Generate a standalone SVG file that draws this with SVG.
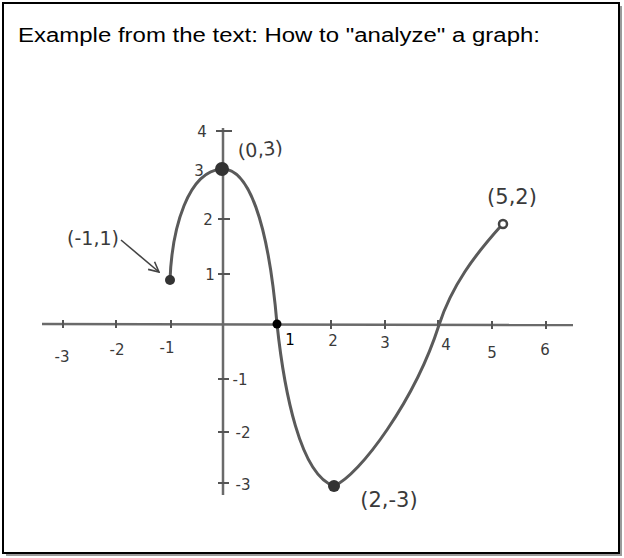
<svg xmlns="http://www.w3.org/2000/svg" width="624" height="558" viewBox="0 0 624 558">
<defs>
<style>
.title{font-family:"Comic Sans MS","Liberation Sans",sans-serif;font-size:20px;fill:#000}
.hand{font-family:"Comic Sans MS","DejaVu Sans",sans-serif;fill:#3a3a3a}
.tick{font-size:15px}
.pt{font-size:19px}
.axis{stroke:#6a6a6a;stroke-width:2.5;fill:none}
.tk{stroke:#555;stroke-width:2;fill:none}
.curve{stroke:#5a5a5a;stroke-width:3;fill:none;stroke-linecap:round}
</style>
<marker id="arr" viewBox="0 0 12 12" refX="11" refY="6" markerWidth="12" markerHeight="12" markerUnits="userSpaceOnUse" orient="auto">
<polyline points="1,1 11,6 1,11" fill="none" stroke="#444" stroke-width="1.6"/>
</marker>
</defs>
<rect x="0" y="0" width="624" height="558" fill="#fff"/>
<rect x="6" y="6" width="616" height="550" fill="#9a9a9a"/>
<rect x="3" y="3" width="616" height="550" fill="#fff" stroke="#000" stroke-width="2"/>
<text class="title" x="18" y="42" textLength="522" lengthAdjust="spacingAndGlyphs">Example from the text:  How to "analyze" a graph:</text>

<g id="axes">
<line class="axis" x1="42" y1="324" x2="573" y2="325"/>
<line class="axis" x1="223" y1="128" x2="223" y2="495"/>
<g class="tk">
<line x1="63" y1="320" x2="63" y2="328"/>
<line x1="116" y1="320" x2="116" y2="328"/>
<line x1="171" y1="320" x2="171" y2="328"/>
<line x1="331" y1="320" x2="331" y2="329"/>
<line x1="385" y1="320" x2="385" y2="329"/>
<line x1="438" y1="320" x2="438" y2="329"/>
<line x1="492" y1="321" x2="492" y2="329"/>
<line x1="546" y1="321" x2="546" y2="329"/>
<line x1="216" y1="131" x2="232" y2="131"/>
<line x1="218" y1="219" x2="230" y2="219"/>
<line x1="218" y1="274" x2="230" y2="274"/>
<line x1="218" y1="379" x2="229" y2="379"/>
<line x1="218" y1="432" x2="229" y2="432"/>
<line x1="218" y1="483" x2="229" y2="483"/>
</g>
<g class="hand tick">
<text x="62" y="362" text-anchor="middle">-3</text>
<text x="117" y="355" text-anchor="middle">-2</text>
<text x="167" y="353" text-anchor="middle">-1</text>
<text x="290" y="345" text-anchor="middle" fill="#000">1</text>
<text x="333" y="346" text-anchor="middle">2</text>
<text x="385" y="348" text-anchor="middle">3</text>
<text x="446" y="350" text-anchor="middle">4</text>
<text x="492" y="358" text-anchor="middle">5</text>
<text x="545" y="355" text-anchor="middle">6</text>
<text x="202" y="137" text-anchor="middle">4</text>
<text x="199" y="176" text-anchor="middle">3</text>
<text x="208" y="225" text-anchor="middle">2</text>
<text x="210" y="280" text-anchor="middle">1</text>
<text x="240" y="385" text-anchor="middle">-1</text>
<text x="243" y="438" text-anchor="middle">-2</text>
<text x="243" y="490" text-anchor="middle">-3</text>
</g>
</g>

<g id="connectors">
<path class="curve" d="M170,280 C172,228 188,171 222,169 C248,168 268,220 277,324 C284,390 300,475 334,486 C360,475 415,400 439,325 C452,285 475,255 500,227"/>
<line x1="121" y1="240" x2="159" y2="272" stroke="#444" stroke-width="1.6" marker-end="url(#arr)"/>
</g>

<g id="p-minus1-1">
<circle cx="170" cy="280" r="5" fill="#333"/>
<text class="hand pt" x="93" y="245" text-anchor="middle">(-1,1)</text>
</g>
<g id="p-0-3">
<circle cx="222" cy="169" r="7" fill="#333"/>
<text class="hand" x="261" y="156" font-size="19" text-anchor="middle" transform="rotate(-6 261 156)">(0,3)</text>
</g>
<g id="p-1-0">
<circle cx="277" cy="324" r="4.5" fill="#000"/>
</g>
<g id="p-2-minus3">
<circle cx="334" cy="486" r="6" fill="#333"/>
<text class="hand" x="389" y="507" font-size="21" text-anchor="middle">(2,-3)</text>
</g>
<g id="p-5-2">
<circle cx="503" cy="224" r="4" fill="#fff" stroke="#444" stroke-width="2.5"/>
<text class="hand" x="512" y="204" font-size="21" text-anchor="middle">(5,2)</text>
</g>
</svg>
